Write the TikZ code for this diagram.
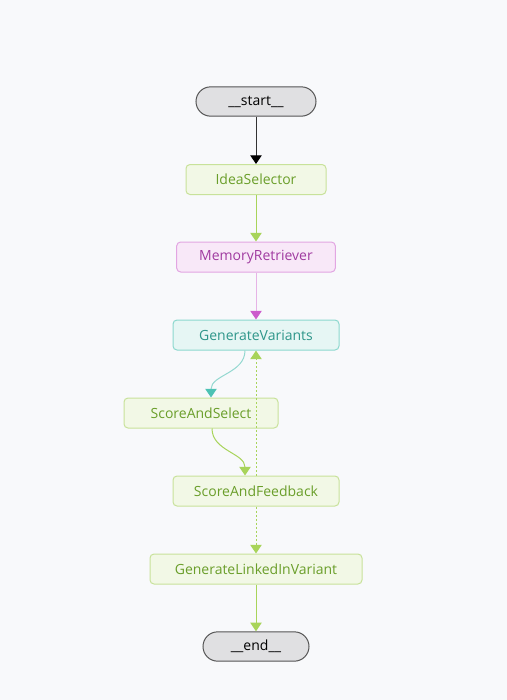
\documentclass[tikz,border=0pt]{standalone}
\usepackage{fontspec}
\setmainfont{Open Sans}
\usetikzlibrary{arrows.meta}
\definecolor{bgcol}{HTML}{F8F9FB}
\definecolor{greenfill}{HTML}{F2F8E6}
\definecolor{greendraw}{HTML}{C8E29A}
\definecolor{greentext}{HTML}{6A9E2A}
\definecolor{greenline}{HTML}{A8D45A}
\definecolor{pinkfill}{HTML}{F8E8F8}
\definecolor{pinkdraw}{HTML}{E2A6E2}
\definecolor{pinktext}{HTML}{A03AA0}
\definecolor{pinkline}{HTML}{E6B4E6}
\definecolor{pinktip}{HTML}{CC5ACC}
\definecolor{tealfill}{HTML}{E6F6F4}
\definecolor{tealdraw}{HTML}{8CD8CE}
\definecolor{tealtext}{HTML}{2E968A}
\definecolor{tealline}{HTML}{94D8D0}
\definecolor{tealtip}{HTML}{4CC2B4}
\definecolor{termfill}{HTML}{E0E0E2}
\definecolor{termdraw}{HTML}{555555}

\begin{document}
\begin{tikzpicture}[x=0.75pt, y=-0.75pt, >={Triangle[width=8.5pt,length=6.5pt]}, line width=0.75pt]
		\tikzstyle{terminal}=[rounded corners=11pt, draw=termdraw, fill=termfill, minimum height=22pt, font=\fontsize{10.5}{12}\selectfont, text=black]
		\tikzstyle{greenbox}=[rounded corners=3pt, draw=greendraw, fill=greenfill, minimum height=22.5pt, font=\fontsize{10.5}{12}\selectfont, text=greentext]
		\tikzstyle{pinkbox}=[rounded corners=3pt, draw=pinkdraw, fill=pinkfill, minimum height=22.5pt, font=\fontsize{10.5}{12}\selectfont, text=pinktext]
		\tikzstyle{tealbox}=[rounded corners=3pt, draw=tealdraw, fill=tealfill, minimum height=22.5pt, font=\fontsize{10.5}{12}\selectfont, text=tealtext]
		\tikzstyle{solidgreen}=[->, draw=greenline, >={Triangle[width=8.5pt,length=6.5pt,color=greenline]}]
		\tikzstyle{dottedgreen}=[->, draw=greenline, dash pattern=on 1.5pt off 1.5pt, >={Triangle[width=8.5pt,length=6.5pt,color=greenline]}]
		
		% Hintergrund
		\fill[bgcol] (0,0) rectangle (507,700);
		\useasboundingbox (0,0) rectangle (507,700);
		
		% Knoten von oben nach unten
		\node[terminal, minimum width=90pt] (start) at (256,101.5) {\_\_start\_\_};
		\node[greenbox, minimum width=105pt] (ideas) at (256,179.5) {IdeaSelector};
		\node[pinkbox, minimum width=119pt] (memory) at (256,257) {MemoryRetriever};
		\node[tealbox, minimum width=124.5pt] (variants) at (256,335) {GenerateVariants};
		\node[greenbox, minimum width=115.5pt] (select) at (201,413) {ScoreAndSelect};
		\node[greenbox, minimum width=124.5pt] (feedback) at (256,491) {ScoreAndFeedback};
		\node[greenbox, minimum width=159pt] (linkedin) at (256,569) {GenerateLinkedInVariant};
		\node[terminal, minimum width=79.5pt] (end) at (256,646.5) {\_\_end\_\_};
		
		% Kanten
		\draw[->, draw=black!80, >={Triangle[width=8.5pt,length=6.5pt,color=black]}] (start) -- (ideas);
		\draw[solidgreen] (ideas) -- (memory);
		\draw[->, draw=pinkline, >={Triangle[width=8.5pt,length=6.5pt,color=pinktip]}] (memory) -- (variants);
		\draw[->, draw=tealline, >={Triangle[width=8.5pt,length=6.5pt,color=tealtip]}] ([xshift=-8.25pt]variants.south) to[out=-90, in=90] ([xshift=7.5pt]select.north);
		\draw[solidgreen] ([xshift=8.25pt]select.south) to[out=-90, in=90] ([xshift=-8.25pt]feedback.north);
		
		% bedingte Kanten
		\draw[dottedgreen] (feedback) -- (variants);
		\draw[dottedgreen] (feedback) -- (linkedin);
		\draw[solidgreen] (linkedin) -- (end);
		
	\end{tikzpicture}
\end{document}
